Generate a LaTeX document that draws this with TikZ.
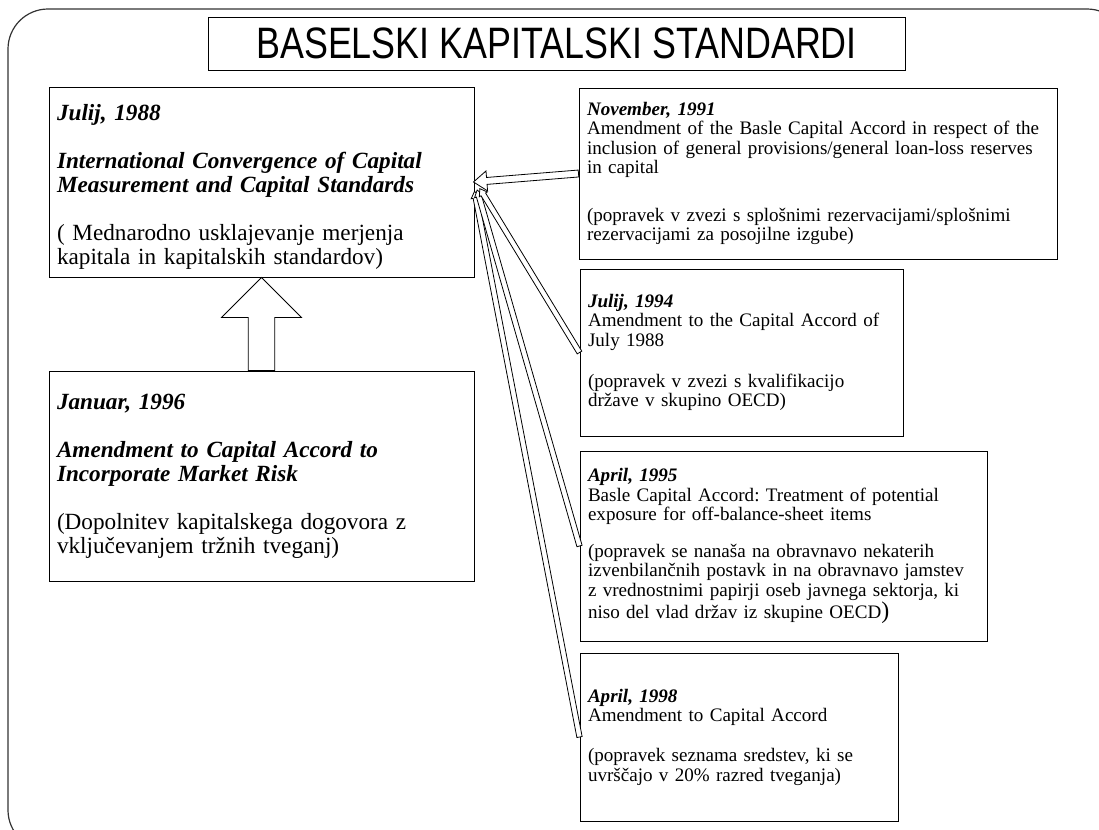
\documentclass[tikz,border=0pt]{standalone}
\usepackage{fontspec}
\setmainfont{Liberation Serif}
\newfontfamily\titlefont{Liberation Sans}
\usetikzlibrary{calc}
\frenchspacing

% hollow block arrow: base name, tail, tip, shaft half width, head half width, head length
\newcommand{\blockarrow}[6]{%
  \coordinate (#1) at ($(#3)!#6!(#2)$);
  \draw[arrowline] ($(#2)!#4!90:(#3)$) -- ($(#1)!#4!90:(#3)$) -- ($(#1)!#5!90:(#3)$) -- (#3)
    -- ($(#1)!#5!-90:(#3)$) -- ($(#1)!#4!-90:(#3)$) -- ($(#2)!#4!-90:(#3)$) -- cycle;}

\begin{document}
\begin{tikzpicture}[x=0.75pt, y=-0.75pt,
    box/.style={draw, line width=0.75pt, inner xsep=6pt, inner ysep=0pt, align=left},
    bigbox/.style={box, text width=306.75pt, minimum height=#1, font=\fontsize{17.4}{18}\selectfont},
    smallbox/.style={box, font=\fontsize{14.3}{14.6}\selectfont},
    arrowline/.style={draw, fill=white, line width=0.6pt, line join=miter}]

    \useasboundingbox (0,0) rectangle (1099,829);
    \clip (0,0) rectangle (1099,829);
    \draw[rounded corners=30pt, line width=0.9pt, black!80] (8,9) rectangle (1127,850);

    \node[box, minimum width=522.75pt, minimum height=39.75pt, font=\titlefont\fontsize{33}{36}\selectfont]
        (title) at (556.5,43.5) {\scalebox{0.815}[1]{BASELSKI KAPITALSKI STANDARDI}};

    \node[bigbox=142.5pt] (conv) at (261.5,182) {\rule{0pt}{20pt}\textbf{\textit{Julij, 1988}}\\[18pt]
        \textbf{\textit{International Convergence of Capital\\Measurement and Capital Standards}}\\[18pt]
        ( Mednarodno usklajevanje merjenja\\kapitala in kapitalskih standardov)};
    \node[bigbox=157.5pt] (jan) at (261.5,476) {\textbf{\textit{Januar, 1996}}\\[18pt]
        \textbf{\textit{Amendment to Capital Accord to\\Incorporate Market Risk}}\\[18pt]
        (Dopolnitev kapitalskega dogovora z\\vključevanjem tržnih tveganj)};

    \node[smallbox, text width=346.5pt, minimum height=128.25pt] (nov) at (818,173.5) {\textbf{\textit{November, 1991}}\\
        Amendment of the Basle Capital Accord in respect of the\\inclusion of general provisions/general loan-loss reserves\\in capital\\[21pt]
        (popravek v zvezi s splošnimi rezervacijami/splošnimi\\rezervacijami za posojilne izgube)};
    \node[smallbox, text width=230.25pt, minimum height=125.25pt] (jul) at (741.5,352.5) {\textbf{\textit{Julij, 1994}}\\
        Amendment to the Capital Accord of\\July 1988\\[16pt]
        (popravek v zvezi s kvalifikacijo\\države v skupino OECD)};
    \node[smallbox, text width=293.25pt, minimum height=142.5pt] (aprA) at (783.5,546) {\textbf{\textit{April, 1995}}\\
        Basle Capital Accord: Treatment of potential\\exposure for off-balance-sheet items\\[13pt]
        (popravek se nanaša na obravnavo nekaterih\\izvenbilančnih postavk in na obravnavo jamstev\\
        z vrednostnimi papirji oseb javnega sektorja, ki\\niso del vlad držav iz skupine OECD{\fontsize{18}{14.6}\selectfont)}};
    \node[smallbox, text width=226.5pt, minimum height=126pt] (aprB) at (739,737) {\textbf{\textit{April, 1998}}\\
        Amendment to Capital Accord\\[15.5pt]
        (popravek seznama sredstev, ki se\\uvrščajo v 20\% razred tveganja)};

    \coordinate (tipB) at ([xshift=4pt,yshift=-5pt]conv.east);
    \coordinate (tipC) at ([xshift=2pt,yshift=-6pt]conv.east);
    \coordinate (tipD) at ([xshift=0pt,yshift=-7pt]conv.east);
    \coordinate (tipA) at ([xshift=-0.75pt]conv.east);

    \blockarrow{baseD}{aprB.west}{tipD}{2pt}{3.5pt}{5pt}
    \blockarrow{baseC}{aprA.west}{tipC}{2pt}{3.5pt}{5pt}
    \blockarrow{baseB}{jul.west}{tipB}{2pt}{3.5pt}{5pt}
    \blockarrow{baseA}{nov.west}{tipA}{2.6pt}{7.5pt}{10pt}
    \blockarrow{baseU}{jan.north}{conv.south}{10pt}{30pt}{30pt}

\end{tikzpicture}
\end{document}
